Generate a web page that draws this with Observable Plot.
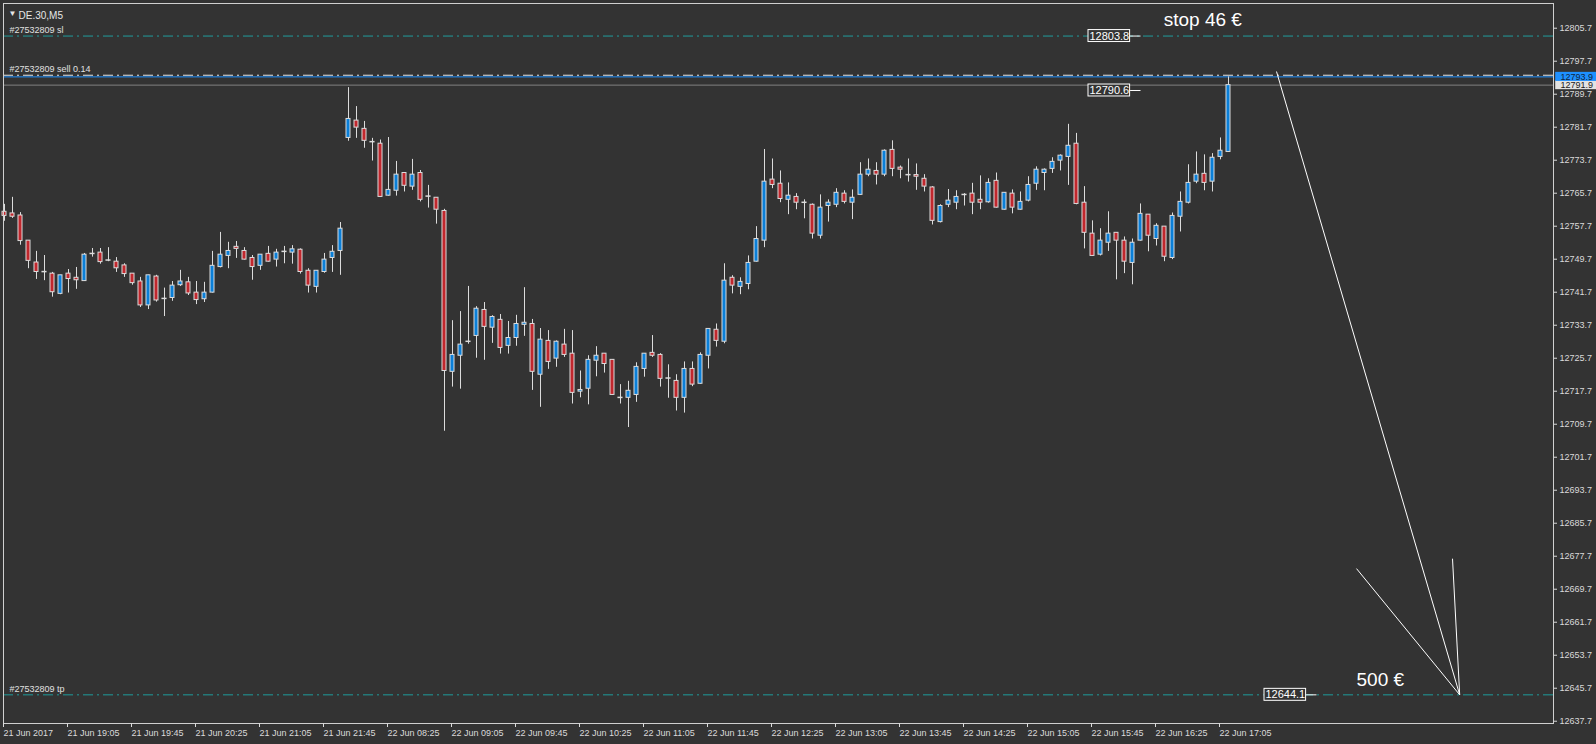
<!DOCTYPE html>
<html><head><meta charset="utf-8">
<script src="https://cdn.jsdelivr.net/npm/d3@7"></script>
<script src="https://cdn.jsdelivr.net/npm/@observablehq/plot@0.6"></script>
<style>html,body{margin:0;padding:0;background:#333333;overflow:hidden}</style>
</head><body><div id="chart"></div>
<script>
// DE.30, M5 candles (index 0 = 21 Jun 2017 18:25)
const open = [
12761.2,12760.8,12760.3,12754.2,12748.9,12746.7,12746.2,12741.3,12746.2,12745.2,
12744.4,12751.1,12751.3,12749.5,12749.1,12748.2,12746.2,12744.3,12738.5,12745.5,
12740.2,12740.3,12743.4,12744.1,12741.6,12740.0,12741.6,12747.8,12750.5,12752.7,
12751.7,12750.0,12748.1,12751.0,12749.6,12751.6,12751.3,12752.0,12746.9,12743.0,
12746.6,12750.0,12751.7,12779.1,12783.3,12781.3,12778.2,12777.7,12765.1,12766.3,
12770.6,12767.3,12770.6,12765.0,12764.6,12761.4,12722.4,12726.3,12729.8,12731.1,
12737.4,12733.1,12735.0,12728.7,12730.6,12733.8,12734.0,12721.7,12729.9,12725.6,
12729.0,12726.8,12717.6,12718.3,12725.1,12726.8,12725.3,12716.2,12716.1,12716.8,
12723.1,12727.0,12726.5,12720.9,12720.2,12716.1,12723.1,12719.5,12726.3,12732.6,
12729.7,12745.2,12743.0,12743.7,12749.1,12754.2,12769.0,12768.0,12764.1,12764.8,
12763.5,12762.9,12755.4,12762.6,12762.9,12765.6,12763.4,12765.3,12770.2,12771.1,
12770.2,12776.2,12771.9,12770.2,12770.1,12769.2,12767.1,12758.7,12762.9,12763.4,
12765.4,12765.6,12764.1,12763.5,12768.7,12761.7,12765.6,12761.7,12763.9,12768.0,
12770.6,12771.6,12773.6,12774.5,12777.7,12763.4,12755.9,12750.8,12753.7,12756.1,
12754.2,12748.8,12754.2,12760.5,12754.6,12757.6,12750.0,12760.0,12763.4,12768.5,
12770.4,12768.5,12774.5,12775.7];
const high = [
12763.0,12764.7,12761.0,12754.2,12751.6,12750.6,12746.5,12745.8,12747.2,12747.7,
12751.1,12752.3,12752.3,12752.5,12750.1,12748.6,12746.2,12745.3,12745.8,12745.8,
12742.7,12744.3,12747.0,12745.3,12744.3,12744.1,12751.6,12756.2,12753.8,12754.0,
12752.5,12750.6,12750.8,12752.8,12752.1,12752.8,12753.0,12752.2,12747.4,12746.9,
12751.1,12753.0,12758.6,12791.3,12786.7,12783.1,12779.0,12778.6,12779.2,12773.4,
12770.6,12773.9,12771.2,12767.6,12764.6,12761.8,12734.8,12737.0,12743.1,12738.2,
12739.2,12736.0,12736.3,12734.6,12736.1,12742.8,12735.1,12732.9,12732.4,12729.9,
12732.7,12732.4,12722.6,12726.3,12728.5,12726.8,12725.3,12719.3,12720.1,12724.6,
12726.8,12731.2,12726.8,12724.1,12721.7,12724.8,12724.8,12727.0,12732.8,12734.0,
12748.6,12745.7,12745.2,12750.5,12757.6,12776.3,12774.0,12771.1,12768.2,12765.6,
12764.1,12763.1,12765.3,12764.1,12766.8,12766.3,12766.5,12773.1,12774.0,12773.1,
12776.2,12778.4,12772.3,12774.0,12772.8,12770.2,12767.3,12762.9,12766.6,12766.3,
12765.6,12768.1,12769.9,12769.2,12770.6,12765.8,12766.5,12766.0,12769.7,12772.1,
12771.6,12774.3,12775.0,12782.4,12780.2,12767.3,12759.0,12757.1,12761.2,12756.1,
12755.1,12754.6,12763.1,12760.5,12758.3,12757.6,12760.9,12766.0,12772.6,12775.7,
12775.0,12775.3,12779.1,12793.9];
const low = [
12758.9,12759.6,12753.1,12747.4,12744.8,12744.5,12740.5,12741.1,12741.5,12742.4,
12744.3,12750.2,12748.5,12749.1,12746.5,12745.3,12743.4,12738.0,12737.5,12739.3,
12735.8,12739.5,12743.1,12740.9,12738.7,12739.2,12741.5,12747.6,12747.4,12749.9,
12749.5,12744.6,12747.0,12749.0,12747.8,12748.6,12748.5,12746.1,12741.5,12741.5,
12746.3,12746.5,12745.8,12778.3,12779.0,12776.6,12773.5,12764.7,12765.0,12765.0,
12766.0,12766.4,12763.6,12762.1,12758.2,12708.0,12718.7,12718.2,12729.1,12725.7,
12725.2,12729.3,12726.7,12726.7,12728.6,12731.0,12717.9,12713.8,12723.0,12723.5,
12725.9,12714.6,12716.1,12714.4,12721.2,12722.1,12716.7,12714.6,12708.9,12715.0,
12721.1,12725.9,12718.7,12716.0,12712.9,12712.4,12718.8,12719.4,12723.1,12728.4,
12729.2,12741.3,12741.1,12742.3,12749.0,12752.5,12766.8,12763.4,12760.5,12761.7,
12759.5,12754.6,12754.6,12758.7,12762.2,12763.1,12759.3,12765.2,12769.7,12767.7,
12769.7,12769.7,12769.2,12768.4,12766.4,12766.0,12758.0,12758.5,12762.2,12761.7,
12762.6,12760.5,12761.7,12763.3,12762.1,12761.6,12760.7,12761.6,12763.6,12766.4,
12766.3,12770.5,12771.1,12767.6,12762.9,12752.2,12750.4,12750.5,12751.6,12744.7,
12746.2,12743.5,12754.1,12751.5,12752.9,12749.1,12749.6,12756.3,12763.1,12768.0,
12766.3,12766.0,12773.8,12775.6];
const close = [
12760.2,12760.0,12754.1,12749.3,12746.6,12746.6,12741.7,12745.8,12744.9,12744.6,
12750.8,12751.1,12749.0,12749.5,12747.5,12746.1,12743.9,12738.5,12745.8,12739.7,
12740.2,12743.3,12744.3,12741.4,12739.8,12741.6,12748.1,12750.8,12751.7,12752.2,
12749.6,12747.8,12750.8,12749.1,12751.3,12751.6,12752.1,12746.6,12743.3,12746.9,
12749.6,12751.5,12757.1,12783.7,12781.6,12778.4,12778.2,12764.8,12766.5,12770.2,
12767.5,12770.2,12764.1,12765.0,12761.7,12722.6,12726.5,12729.0,12729.8,12737.7,
12733.3,12735.7,12728.2,12730.6,12734.0,12734.3,12722.4,12730.2,12724.8,12729.7,
12726.5,12717.3,12718.0,12725.3,12726.3,12724.3,12716.8,12716.2,12717.8,12723.6,
12726.8,12726.3,12720.7,12720.9,12716.1,12723.1,12719.3,12726.5,12732.8,12729.9,
12744.5,12743.3,12744.2,12748.8,12754.6,12768.5,12767.7,12764.3,12765.1,12763.4,
12763.5,12755.9,12762.2,12763.4,12765.8,12763.6,12764.6,12770.2,12771.4,12770.2,
12776.0,12771.6,12771.4,12770.2,12769.7,12767.3,12759.0,12762.6,12763.9,12764.8,
12765.3,12763.4,12763.4,12768.2,12762.2,12765.8,12762.2,12763.6,12767.7,12771.4,
12771.4,12773.3,12774.8,12777.2,12763.1,12756.1,12750.5,12754.2,12755.9,12754.2,
12749.1,12753.7,12760.7,12755.4,12757.8,12750.3,12760.2,12763.6,12768.2,12770.2,
12768.2,12774.3,12776.0,12791.9];

const xTickIndex = [0,8,16,24,32,40,48,56,64,72,80,88,96,104,112,120,128,136,144,152];
const xTickLabels = ["21 Jun 2017","21 Jun 19:05","21 Jun 19:45","21 Jun 20:25","21 Jun 21:05","21 Jun 21:45",
  "22 Jun 08:25","22 Jun 09:05","22 Jun 09:45","22 Jun 10:25","22 Jun 11:05","22 Jun 11:45","22 Jun 12:25",
  "22 Jun 13:05","22 Jun 13:45","22 Jun 14:25","22 Jun 15:05","22 Jun 15:45","22 Jun 16:25","22 Jun 17:05"];
const yTicks = [12805.7,12797.7,12789.7,12781.7,12773.7,12765.7,12757.7,12749.7,12741.7,12733.7,12725.7,
  12717.7,12709.7,12701.7,12693.7,12685.7,12677.7,12669.7,12661.7,12653.7,12645.7,12637.7];

const slPrice = 12803.8, sellPrice = 12794.3, tpPrice = 12644.1, bidPrice = 12793.9, lastPrice = 12791.9;
const orderLabels = ["#27532809 sl", "#27532809 sell 0.14", "#27532809 tp"];
const orderPrices = [slPrice, sellPrice, tpPrice];
const tagValues = [12803.8, 12790.6, 12644.1];
const tagAnchors = [142, 142, 164];
const noteTexts = ["stop 46 €", "500 €"];
const noteX = [144.9, 169.0];
const noteY = [12807.6, 12647.6];
const arrowFrom = [[159, 12795.2], [169, 12674.7], [181, 12677.1]];
const arrowTo = [181.9, 12644.1];

const BLUE = "#0a7fd8", RED = "#c1272d", EDGE = "#dcdcdc", TEAL = "#1f9b9b";

const candles = open.map((o, i) => ({i, o, h: high[i], l: low[i], c: close[i]}));
const bodies = candles.filter(d => Math.abs(d.o - d.c) >= 0.3);
const dojis = candles.filter(d => Math.abs(d.o - d.c) < 0.3);
const orders = orderLabels.map((t, k) => ({t, y: orderPrices[k]}));
const tags = tagValues.map((v, k) => ({v, at: tagAnchors[k]}));
const notes = noteTexts.map((t, k) => ({t, x: noteX[k], y: noteY[k]}));
const arrows = arrowFrom.map(([x1, y1]) => ({x1, y1, x2: arrowTo[0], y2: arrowTo[1]}));
const axisTags = [
  {v: lastPrice, bg: "#e2e2e2", fg: "#1a1a1a"},
  {v: bidPrice, bg: "#1e90ff", fg: "#10243a"}
];

const chart = Plot.plot({
  width: 1596, height: 744,
  marginLeft: 3, marginRight: 43, marginTop: 3, marginBottom: 21,
  style: {background: "#333333", color: "#dadada", fontFamily: "'Liberation Sans', Arial, sans-serif", fontSize: "9px"},
  x: {type: "linear", domain: [-0.125, 193.625]},
  y: {domain: [12637.15, 12811.69]},
  color: {type: "identity"},
  marks: [
    Plot.ruleY([lastPrice], {stroke: "#808080"}),
    Plot.ruleY([slPrice, tpPrice], {stroke: TEAL, strokeDasharray: "10,4,2,4"}),
    Plot.ruleY([sellPrice], {stroke: "#e6e6e6", strokeDasharray: "10,4,2,4"}),
    Plot.ruleY([bidPrice], {stroke: "#1e90ff"}),
    Plot.text(orders, {y: "y", text: "t", frameAnchor: "left", dx: 6, dy: -6, textAnchor: "start", fill: "#e0e0e0", fontSize: 9}),
    Plot.ruleX(candles, {x: "i", y1: "l", y2: "h", stroke: EDGE}),
    Plot.rect(bodies, {x1: d => d.i - 0.25, x2: d => d.i + 0.25, y1: "o", y2: "c",
      fill: d => d.c > d.o ? BLUE : RED, stroke: EDGE, strokeWidth: 1}),
    Plot.ruleY(dojis, {y: "o", x1: d => d.i - 0.32, x2: d => d.i + 0.32, stroke: EDGE, strokeWidth: 1.5}),
    Plot.link(tags, {x1: d => d.at - 1.3, x2: d => d.at, y1: "v", y2: "v", stroke: "#ffffff"}),
    Plot.rect(tags, {x1: d => d.at - 6.5, x2: d => d.at - 1.3, y1: d => d.v - 1.45, y2: d => d.v + 1.45, fill: "#333333", stroke: "#ffffff"}),
    Plot.text(tags, {x: d => d.at - 3.9, y: "v", text: d => d.v.toFixed(1), fill: "#ffffff", fontSize: 11}),
    Plot.link(arrows, {x1: "x1", y1: "y1", x2: "x2", y2: "y2", stroke: "#ffffff", strokeWidth: 1}),
    Plot.text(notes, {x: "x", y: "y", text: "t", textAnchor: "start", fill: "#ffffff", fontSize: 19}),
    Plot.frame({stroke: "#d0d0d0"}),
    Plot.axisY(yTicks, {anchor: "right", tickSize: 3, tickPadding: 3, tickFormat: d => d.toFixed(1), fontSize: 9}),
    Plot.axisX(xTickIndex, {anchor: "bottom", tickSize: 4, tickPadding: 2, textAnchor: "start", dx: -1,
      tickFormat: i => xTickLabels[xTickIndex.indexOf(i)], fontSize: 9}),
    Plot.rect(axisTags, {x1: () => 193.9, x2: () => 199, y1: d => d.v - 1.1, y2: d => d.v + 1.1, fill: "bg"}),
    Plot.text(axisTags, {x: () => 194.25, y: "v", text: d => d.v.toFixed(1), fill: "fg", textAnchor: "start", dx: 2, fontSize: 9}),
    Plot.text(["DE.30,M5"], {frameAnchor: "top-left", dx: 15, dy: 8, textAnchor: "start", fill: "#e6e6e6", fontSize: 10}),
    Plot.text(["▼"], {frameAnchor: "top-left", dx: 5, dy: 7, fill: "#e6e6e6", fontSize: 8})
  ]
});
document.getElementById("chart").appendChild(chart);
</script>
</body></html>
